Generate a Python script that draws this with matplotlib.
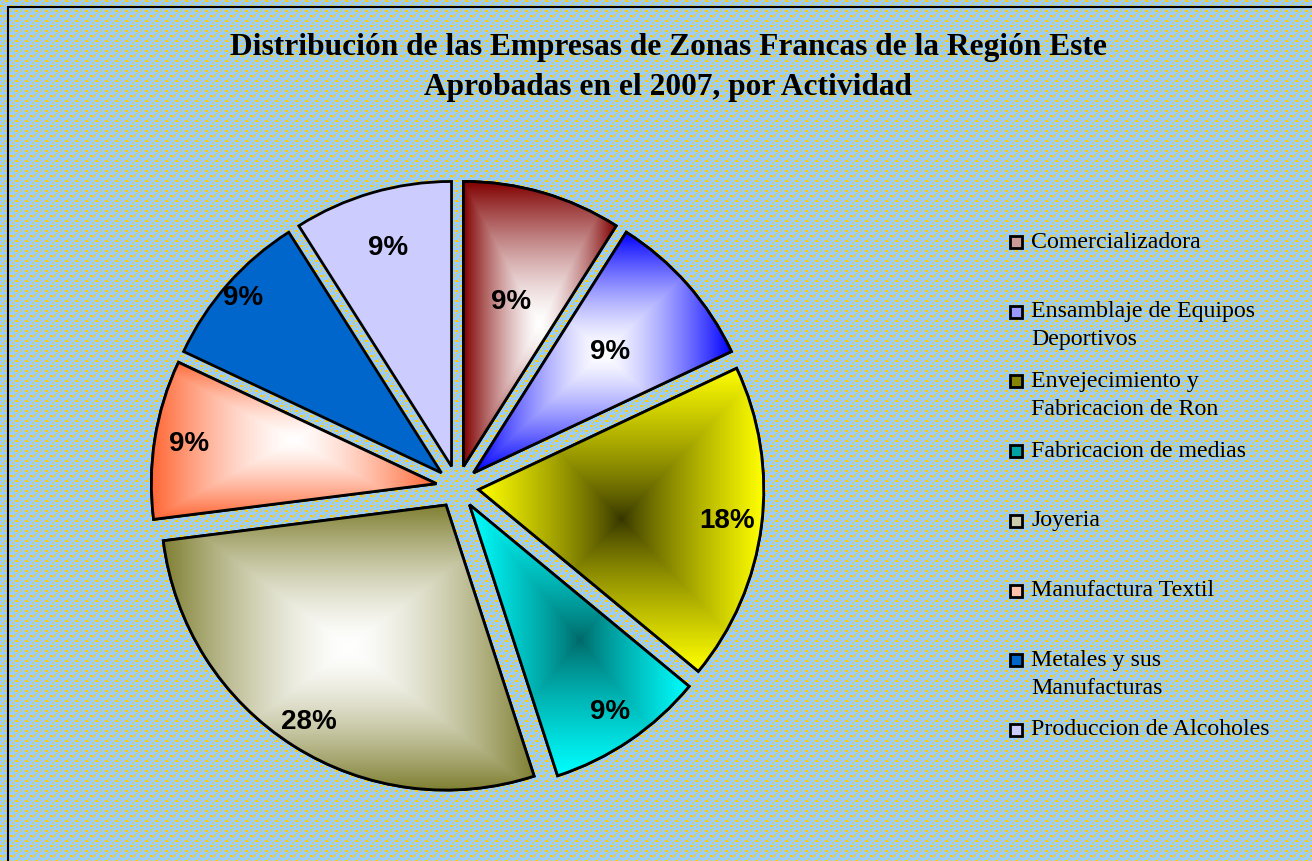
import numpy as np
import matplotlib
matplotlib.use("Agg")
import matplotlib.pyplot as plt
from matplotlib.patches import Wedge, Rectangle
from matplotlib.colors import to_rgb

# data
categories = ["Comercializadora", "Ensamblaje de Equipos Deportivos",
              "Envejecimiento y Fabricacion de Ron", "Fabricacion de medias",
              "Joyeria", "Manufactura Textil", "Metales y sus Manufacturas",
              "Produccion de Alcoholes"]
legend_labels = ["Comercializadora", "Ensamblaje de Equipos\nDeportivos",
                 "Envejecimiento y\nFabricacion de Ron", "Fabricacion de medias",
                 "Joyeria", "Manufactura Textil", "Metales y sus\nManufacturas",
                 "Produccion de Alcoholes"]
shares = [9, 9, 18, 9, 28, 9, 9, 9]

# (edge colour, centre colour) of the "from centre" gradients
edge_cols = ["#800000", "#0000FF", "#FFFF00", "#00FFFF", "#808033", "#FF6633", "#0066CC", "#CCCCFF"]
centre_cols = ["#FFFFFF", "#FFFFFF", "#333300", "#006666", "#FFFFFF", "#FFFFFF", "#0066CC", "#CCCCFF"]
grad_pow = [1.4, 1.4, 0.8, 0.8, 1.5, 1.4, 1, 1]
pct_dist = [0.60, 0.64, 0.88, 0.88, 0.90, 0.88, 0.93, 0.80]

W, H = 1312, 861
fig = plt.figure(figsize=(W / 100, H / 100), dpi=100)

# patterned background (blue with yellow lattice)
i, j = np.mgrid[0:H, 0:W]
p = 10
yel = ((i + j) % p == 0) & ((i // 2) % 2 == 0)
yel |= ((i - j) % p == 0) & ((i // 2) % 2 == 1)
yel |= ((i % p) < 2) & (((j + p // 2) % p) < 3)
yel |= (((i + p // 2) % p) < 2) & ((j % p) < 3)
bg = np.empty((H, W, 3))
bg[:] = to_rgb("#99CCFF")
bg[yel] = to_rgb("#FFCC00")
fig.figimage(bg, xo=0, yo=0, zorder=-5)

# chart border (only left and top visible)
fig.add_artist(Rectangle((8 / W, -0.1), 1.2, 1.1 - 7 / H, transform=fig.transFigure,
                         fill=False, edgecolor="black", linewidth=1.5))

fig.text(668 / W, 1 - 47 / H, "Distribución de las Empresas de Zonas Francas de la Región Este",
         ha="center", va="center", fontsize=22.6, fontweight="bold", family="Liberation Serif")
fig.text(668 / W, 1 - 87 / H, "Aprobadas en el 2007, por Actividad",
         ha="center", va="center", fontsize=22.6, fontweight="bold", family="Liberation Serif")

r_px = 285
cx, cy = 457.5, 487
half = 340
ax = fig.add_axes([(cx - half) / W, (H - cy - half) / H, 2 * half / W, 2 * half / H])
ax.patch.set_alpha(0)

wedges, texts, autotexts = ax.pie(shares, startangle=90, counterclock=False,
                                  explode=[0.075] * len(shares), autopct="%.0f%%",
                                  pctdistance=0.7, radius=1,
                                  wedgeprops=dict(edgecolor="black", linewidth=2))

for k, w in enumerate(wedges):
    w.set_facecolor(edge_cols[k])
    if edge_cols[k] != centre_cols[k]:
        ext = w.get_path().get_extents()
        n = 200
        xs = np.linspace(-1, 1, n)
        gx, gy = np.meshgrid(xs, xs)
        t = np.maximum(np.abs(gx), np.abs(gy)) ** grad_pow[k]
        e = np.array(to_rgb(edge_cols[k]))
        c = np.array(to_rgb(centre_cols[k]))
        img = c + (e - c) * t[..., None]
        im = ax.imshow(img, extent=[ext.x0, ext.x1, ext.y0, ext.y1], zorder=w.get_zorder() + 0.1,
                       interpolation="bilinear")
        im.set_clip_path(w)
        ax.add_patch(Wedge(w.center, w.r, w.theta1, w.theta2, fill=False,
                           edgecolor="black", linewidth=2, zorder=w.get_zorder() + 0.2))
    # reposition label
    th = np.deg2rad((w.theta1 + w.theta2) / 2)
    d = pct_dist[k]
    autotexts[k].set_position((w.center[0] + d * np.cos(th), w.center[1] + d * np.sin(th)))
    autotexts[k].set_fontsize(20)
    autotexts[k].set_fontweight("bold")
    autotexts[k].set_family("Liberation Sans")
    autotexts[k].set_zorder(10)

lim = half / r_px
ax.set_xlim(-lim, lim)
ax.set_ylim(-lim, lim)
ax.set_aspect("equal")
ax.axis("off")

# legend
for k, lab in enumerate(legend_labels):
    ytop = 242 + 69.7 * k
    e = np.array(to_rgb(edge_cols[k]))
    c = np.array(to_rgb(centre_cols[k]))
    fig.add_artist(Rectangle((1010 / W, 1 - (ytop + 6) / H), 12 / W, 12 / H,
                             transform=fig.transFigure, facecolor=0.4 * e + 0.6 * c,
                             edgecolor="black", linewidth=2))
    for m, line in enumerate(lab.split("\n")):
        fig.text(1031 / W, 1 - (ytop + 28 * m) / H, line, ha="left", va="center",
                 fontsize=17.2, family="Liberation Serif")

fig.savefig("out.png", dpi=100)
